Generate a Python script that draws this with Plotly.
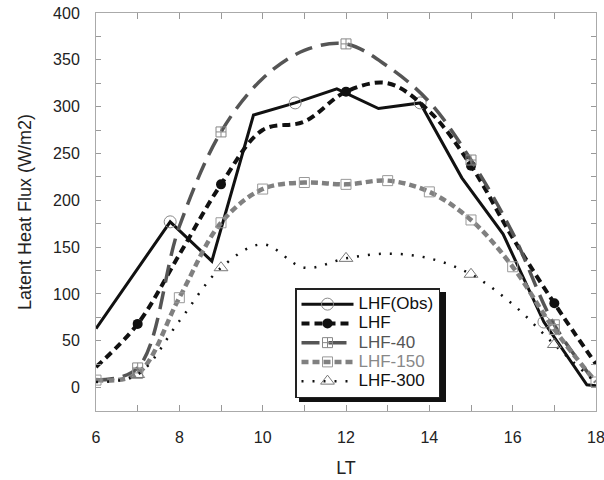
import plotly.graph_objects as go

# ---------------- data ----------------
hours = [6, 7, 8, 9, 10, 11, 12, 13, 14, 15, 16, 17, 18]

obs_time = [6.0, 7.78, 8.78, 9.78, 10.78, 11.78, 12.78, 13.78, 14.78, 15.77, 16.75, 17.78, 18.0]
lhf_obs = [63, 177, 135, 291, 304, 319, 298, 304, 224, 164, 70, 3, 2]

lhf = [22, 68, 142, 217, 275, 284, 316, 325, 295, 237, 160, 90, 25]
lhf_40 = [8, 21, 172, 273, 330, 360, 367, 343, 305, 243, 165, 67, 5]
lhf_150 = [8, 15, 96, 176, 212, 219, 217, 221, 209, 179, 129, 62, 6]
lhf_300 = [6, 14, 71, 128, 153, 128, 138, 143, 138, 121, 89, 46, 5]

# indices of points that carry a marker
obs_marker_idx = [1, 4, 7, 10]
lhf_marker_idx = [1, 3, 6, 9, 11]
lhf40_marker_idx = [1, 3, 6, 9, 11]
lhf150_marker_idx = list(range(13))
lhf300_marker_idx = [1, 3, 6, 9, 11]

x_tickvals = [6, 7, 8, 9, 10, 11, 12, 13, 14, 15, 16, 17, 18]
x_ticktext = ["6", "", "8", "", "10", "", "12", "", "14", "", "16", "", "18"]
y_tickvals = [0, 25, 50, 75, 100, 125, 150, 175, 200, 225, 250, 275, 300, 325, 350, 375, 400]
y_ticktext = ["0", "", "50", "", "100", "", "150", "", "200", "", "250", "", "300", "", "350", "", "400"]

FONT = "Liberation Sans, Arial, sans-serif"
LEG_PX = 17  # rendered size of legend labels

def pick(xs, ys, idx):
    return [xs[i] for i in idx], [ys[i] for i in idx]

def leg_label(text, color):
    return "<span style='font-size:%dpx;color:%s'>%s</span>" % (LEG_PX, color, text)

fig = go.Figure()

series = [
    ("LHF(Obs)", "#111111", obs_time, lhf_obs, obs_marker_idx,
     dict(color="#111111", width=3, dash="solid"),
     dict(symbol="circle-open", size=12, color="#888888", line=dict(width=1, color="#888888")),
     "linear"),
    ("LHF", "#111111", hours, lhf, lhf_marker_idx,
     dict(color="#111111", width=4, dash="8px,5px"),
     dict(symbol="circle", size=10, color="#111111"),
     "spline"),
    ("LHF-40", "#555555", hours, lhf_40, lhf40_marker_idx,
     dict(color="#555555", width=3.5, dash="18px,9px"),
     dict(symbol="square-cross-open", size=10, color="#888888", line=dict(width=1, color="#888888")),
     "spline"),
    ("LHF-150", "#888888", hours, lhf_150, lhf150_marker_idx,
     dict(color="#808080", width=4.5, dash="7px,4px"),
     dict(symbol="square-open", size=10, color="#999999", line=dict(width=1, color="#999999")),
     "spline"),
    ("LHF-300", "#111111", hours, lhf_300, lhf300_marker_idx,
     dict(color="#111111", width=2.5, dash="2px,9px"),
     dict(symbol="triangle-up-open", size=12, color="#777777", line=dict(width=1, color="#777777")),
     "spline"),
]

for name, tcol, xs, ys, idx, ln, mk, shape in series:
    fig.add_trace(go.Scatter(x=xs, y=ys, mode="lines", line=dict(shape=shape, smoothing=1, **ln),
                             showlegend=False, hoverinfo="skip"))
    mx, my = pick(xs, ys, idx)
    fig.add_trace(go.Scatter(x=mx, y=my, mode="markers", marker=mk, showlegend=False))
    fig.add_trace(go.Scatter(x=[None], y=[None], mode="lines+markers", name=leg_label(name, tcol),
                             line=ln, marker=mk, showlegend=True))

# plot-area geometry in pixels
L, T, W, H = 96, 13, 500, 398
def px2x(p): return (p - L) / W
def py2y(p): return (T + H - p) / H

# legend drop shadow
fig.add_shape(type="rect", xref="paper", yref="paper",
              x0=px2x(299), x1=px2x(446), y0=py2y(402), y1=py2y(292),
              fillcolor="#111111", line=dict(width=0), layer="above")

fig.update_layout(
    width=604, height=480,
    margin=dict(l=L, r=604 - L - W, t=T, b=480 - T - H, autoexpand=False),
    paper_bgcolor="white", plot_bgcolor="white",
    font=dict(family=FONT, size=16, color="#222222"),
    showlegend=True,
    legend=dict(x=px2x(295), y=py2y(288), xanchor="left", yanchor="top",
                bgcolor="white", bordercolor="#222222", borderwidth=1.5,
                font=dict(family=FONT, size=12.5, color="#111111"),
                itemwidth=52, tracegroupgap=0),
    xaxis=dict(range=[6, 18], tickvals=x_tickvals, ticktext=x_ticktext,
               ticks="inside", ticklen=6, tickcolor="#999999", tickwidth=1,
               showline=True, linecolor="#aaaaaa", linewidth=1, mirror="ticks",
               showgrid=False, zeroline=False, ticklabelstandoff=12, automargin=False,
               ticklabeloverflow="allow",
               title=dict(text="LT", font=dict(size=18), standoff=16)),
    yaxis=dict(range=[-25, 400], tickvals=y_tickvals, ticktext=y_ticktext,
               ticks="inside", ticklen=5, tickcolor="#999999", tickwidth=1,
               showline=True, linecolor="#aaaaaa", linewidth=1, mirror="ticks",
               showgrid=False, zeroline=False, ticklabelstandoff=12, automargin=False,
               ticklabeloverflow="allow",
               title=dict(text="Latent Heat Flux (W/m2)", font=dict(size=18), standoff=16)),
)

fig.write_html("out.html")
